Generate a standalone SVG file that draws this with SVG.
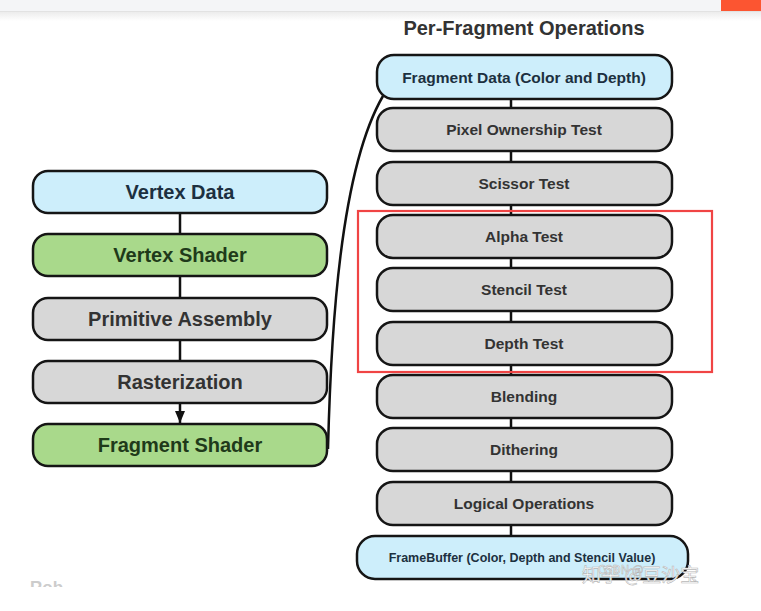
<svg xmlns="http://www.w3.org/2000/svg" width="761" height="611" viewBox="0 0 761 611">
<defs>
<linearGradient id="shadow" x1="0" y1="0" x2="0" y2="1">
<stop offset="0" stop-color="#ececec"/>
<stop offset="1" stop-color="#ffffff"/>
</linearGradient>
<marker id="arrow" viewBox="0 0 12 10" refX="12" refY="5" markerWidth="12" markerHeight="10" markerUnits="userSpaceOnUse" orient="auto">
<path d="M0,0 L12,5 L0,10 Z" fill="#111"/>
</marker>
<clipPath id="clipRob"><rect x="0" y="560" width="200" height="27"/></clipPath>
</defs>
<style>
.box{stroke:#151515;stroke-width:2.5}
.blue{fill:#cdeefb}
.green{fill:#a9d98b}
.gray{fill:#d7d7d7}
.lt{font-family:"Liberation Sans",Arial,sans-serif;font-weight:bold;font-size:20px;text-anchor:middle}
.rt{font-family:"Liberation Sans",Arial,sans-serif;font-weight:bold;font-size:15.5px;text-anchor:middle;fill:#333}
.conn{stroke:#111;stroke-width:2.5;fill:none}
</style>
<rect width="761" height="611" fill="#ffffff"/>
<g id="topbar">
<rect x="0" y="0" width="761" height="11" fill="#f4f5f7"/>
<rect x="0" y="12" width="761" height="9" fill="url(#shadow)"/>
<line x1="0" y1="11.5" x2="761" y2="11.5" stroke="#e2e2e2" stroke-width="1"/>
<rect x="721" y="0" width="40" height="11" fill="#fc5531"/>
</g>
<text x="524" y="35" font-family="'Liberation Sans',Arial,sans-serif" font-weight="bold" font-size="20" text-anchor="middle" fill="#333">Per-Fragment Operations</text>
<g id="connectors">
<line class="conn" x1="180" y1="213" x2="180" y2="234"/>
<line class="conn" x1="180" y1="276" x2="180" y2="298"/>
<line class="conn" x1="180" y1="340" x2="180" y2="361"/>
<line class="conn" x1="180" y1="403" x2="180" y2="423" marker-end="url(#arrow)"/>
<path class="conn" d="M328,449 C331,330 340,170 383,96"/>
<line class="conn" x1="511" y1="99" x2="511" y2="108"/>
<line class="conn" x1="511" y1="151" x2="511" y2="162"/>
<line class="conn" x1="511" y1="205" x2="511" y2="215"/>
<line class="conn" x1="511" y1="258" x2="511" y2="268"/>
<line class="conn" x1="511" y1="311" x2="511" y2="322"/>
<line class="conn" x1="511" y1="365" x2="511" y2="375"/>
<line class="conn" x1="511" y1="418" x2="511" y2="428"/>
<line class="conn" x1="511" y1="471" x2="511" y2="482"/>
<line class="conn" x1="511" y1="525" x2="511" y2="536"/>
</g>
<g id="vertex-data"><rect class="box blue" x="33" y="171" width="294" height="42" rx="15"/><text class="lt" x="180" y="199" fill="#1c3040">Vertex Data</text></g>
<g id="vertex-shader"><rect class="box green" x="33" y="234" width="294" height="42" rx="15"/><text class="lt" x="180" y="262" fill="#1f3a1a">Vertex Shader</text></g>
<g id="primitive-assembly"><rect class="box gray" x="33" y="298" width="294" height="42" rx="15"/><text class="lt" x="180" y="326" fill="#333">Primitive Assembly</text></g>
<g id="rasterization"><rect class="box gray" x="33" y="361" width="294" height="42" rx="15"/><text class="lt" x="180" y="389" fill="#333">Rasterization</text></g>
<g id="fragment-shader"><rect class="box green" x="33" y="424" width="294" height="42" rx="15"/><text class="lt" x="180" y="452" fill="#1f3a1a">Fragment Shader</text></g>
<g id="fragment-data"><rect class="box blue" x="377" y="55" width="295" height="44" rx="17"/><text class="rt" x="524" y="82.5" fill="#1c3040" style="fill:#1c3040">Fragment Data (Color and Depth)</text></g>
<g id="pixel-ownership"><rect class="box gray" x="377" y="108" width="295" height="43" rx="16"/><text class="rt" x="524" y="135">Pixel Ownership Test</text></g>
<g id="scissor"><rect class="box gray" x="377" y="162" width="295" height="43" rx="16"/><text class="rt" x="524" y="189">Scissor Test</text></g>
<g id="alpha"><rect class="box gray" x="377" y="215" width="295" height="43" rx="16"/><text class="rt" x="524" y="242">Alpha Test</text></g>
<g id="stencil"><rect class="box gray" x="377" y="268" width="295" height="43" rx="16"/><text class="rt" x="524" y="295">Stencil Test</text></g>
<g id="depth"><rect class="box gray" x="377" y="322" width="295" height="43" rx="16"/><text class="rt" x="524" y="349">Depth Test</text></g>
<g id="blending"><rect class="box gray" x="377" y="375" width="295" height="43" rx="16"/><text class="rt" x="524" y="402">Blending</text></g>
<g id="dithering"><rect class="box gray" x="377" y="428" width="295" height="43" rx="16"/><text class="rt" x="524" y="455">Dithering</text></g>
<g id="logical"><rect class="box gray" x="377" y="482" width="295" height="43" rx="16"/><text class="rt" x="524" y="509">Logical Operations</text></g>
<g id="framebuffer"><rect class="box blue" x="357" y="536" width="331" height="43" rx="18"/><text x="522" y="561.5" font-family="'Liberation Sans',Arial,sans-serif" font-weight="bold" font-size="12.5" text-anchor="middle" fill="#1c3040">FrameBuffer (Color, Depth and Stencil Value)</text></g>
<g id="highlight"><rect x="358" y="211" width="354" height="161" fill="none" stroke="#f04444" stroke-width="2.2"/></g>
<g id="watermark" font-family="'Noto Sans CJK SC','Liberation Sans',sans-serif">
<text x="582" y="582" font-size="19" fill="#ffffff" stroke="#b8b8b8" stroke-width="0.6">知乎 @豆沙宝</text>
<text x="598" y="574" font-size="12" fill="#ffffff" stroke="#b0b0b0" stroke-width="0.5">CSDN @</text>
</g>
<text x="30" y="593" clip-path="url(#clipRob)" font-family="'Liberation Sans',Arial,sans-serif" font-weight="bold" font-size="17" fill="#cccccc">Rob</text>
</svg>
